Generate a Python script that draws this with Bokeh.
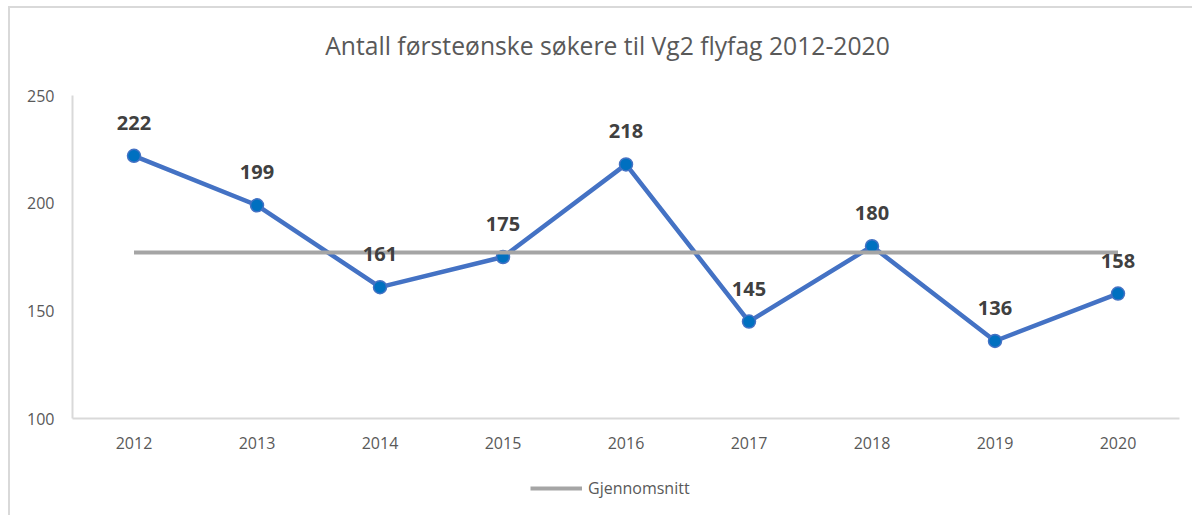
from bokeh.plotting import figure
from bokeh.models import (ColumnDataSource, FactorRange, Range1d, LabelSet, Label,
                          Legend, LegendItem, FixedTicker)
from bokeh.layouts import column
from bokeh.core.properties import value
from bokeh.embed import file_html
from bokeh.resources import INLINE

years = ["2012", "2013", "2014", "2015", "2016", "2017", "2018", "2019", "2020"]
applicants = [222, 199, 161, 175, 218, 145, 180, 136, 158]
title_text = "Antall førsteønske søkere til Vg2 flyfag 2012-2020"
legend_label = "Gjennomsnitt"
y_ticks = [100, 150, 200, 250]

average = sum(applicants) / len(applicants)
src = ColumnDataSource(dict(x=years, y=applicants, avg=[average] * len(years),
                            lbl=[str(v) for v in applicants]))

FONT = "Open Sans"
AVG_COLOR = "#a5a5a5"
W = 1182
FRAME_W = 1107  # plot-area width (strips share the main chart's frame alignment)


def strip(height, x_range, y_range):
    f = figure(width=W, height=height, x_range=x_range, y_range=y_range,
               output_backend="svg", toolbar_location=None,
               x_axis_location=None, y_axis_location=None,
               min_border_left=62, min_border_right=13, min_border_top=0, min_border_bottom=0,
               background_fill_color="white", border_fill_color="white")
    f.outline_line_color = None
    f.grid.visible = False
    return f


# title strip
tf = strip(60, Range1d(0, FRAME_W), Range1d(0, 60))
tf.add_layout(Label(x=535, y=23, text=title_text, text_align="center", text_baseline="middle",
                    text_font=FONT, text_font_size="24.7px", text_color="#595959"))

# main chart
p = figure(width=W, height=390, x_range=FactorRange(*years), y_range=Range1d(100, 250),
           output_backend="svg", toolbar_location=None,
           min_border_left=62, min_border_right=13, min_border_top=27, min_border_bottom=40,
           background_fill_color="white", border_fill_color="white")
p.outline_line_color = None
p.xgrid.visible = False
p.ygrid.visible = False

for ax in (p.xaxis[0], p.yaxis[0]):
    ax.major_tick_line_color = None
    ax.minor_tick_line_color = None
    ax.axis_line_color = "#d9d9d9"
    ax.axis_line_width = 2
    ax.major_label_text_font = FONT
    ax.major_label_text_font_size = "16px"
    ax.major_label_text_color = "#595959"
p.yaxis[0].ticker = FixedTicker(ticks=y_ticks)
p.yaxis[0].major_label_standoff = 12
p.xaxis[0].major_label_standoff = 12

p.line("x", "y", source=src, line_color="#4472c4", line_width=4.5)
p.scatter("x", "y", source=src, size=13, fill_color="#0070c0", line_color="#4472c4", line_width=1.5)
p.line("x", "avg", source=src, line_color=AVG_COLOR, line_width=4)

labels = LabelSet(x="x", y="y", text="lbl", source=src, y_offset=33,
                  text_align="center", text_baseline="middle",
                  text_font=value(FONT), text_font_size=value("20px"),
                  text_font_style=value("bold"), text_color=value("#404040"))
p.add_layout(labels)

# legend strip below the chart (its average line lies outside this strip's view)
lg = strip(57, FactorRange(*years), Range1d(0, 1))
legend_r = lg.line("x", "avg", source=src, line_color=AVG_COLOR, line_width=4)
legend = Legend(items=[LegendItem(label=legend_label, renderers=[legend_r])],
                location=(458, 16), orientation="horizontal",
                glyph_width=52, glyph_height=20, label_standoff=6, padding=0, margin=0,
                border_line_color=None, background_fill_alpha=0,
                label_text_font=FONT, label_text_font_size="16px", label_text_color="#595959")
lg.add_layout(legend, "center")

layout = column(tf, p, lg, spacing=0)
layout.styles = {"border-top": "2px solid #d9d9d9", "border-left": "2px solid #d9d9d9",
                 "margin-top": "6px", "margin-left": "8px"}

open("out.html", "w").write(file_html(layout, INLINE))
